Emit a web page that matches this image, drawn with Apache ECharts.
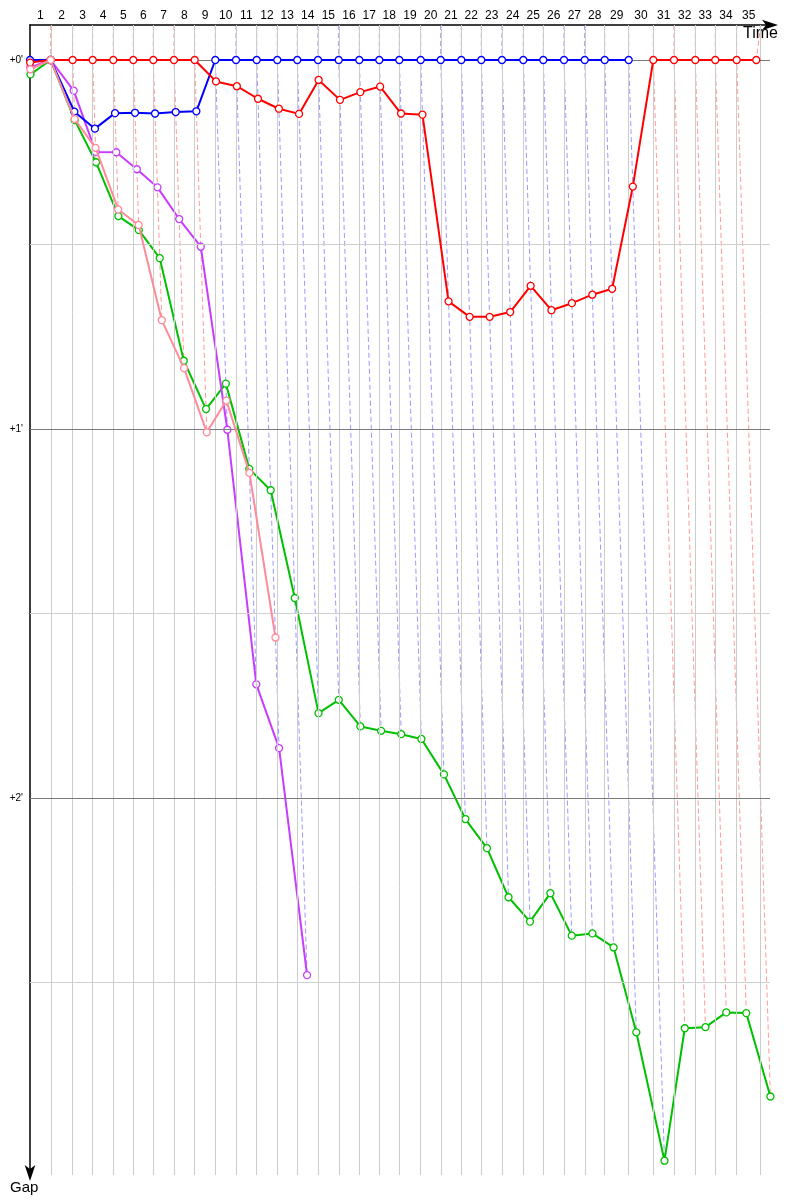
<!DOCTYPE html>
<html><head><meta charset="utf-8">
<script src="https://cdn.jsdelivr.net/npm/echarts@6/dist/echarts.min.js"></script>
<style>html,body{margin:0;padding:0;background:#fff}#c{width:800px;height:1200px}</style>
</head><body><div id="c"></div>
<script>
// Leader's cumulative race time (minutes) at the end of laps 0..35
const leaderTimes = [0, 1.725, 3.558, 5.225, 6.942, 8.608, 10.275, 12.0, 13.725, 15.442,
  17.167, 18.892, 20.608, 22.275, 24.0, 25.725, 27.442, 29.108, 30.775, 32.558,
  34.225, 35.942, 37.608, 39.333, 41.108, 42.775, 44.5, 46.225, 47.892, 49.892,
  51.942, 53.667, 55.442, 57.108, 58.892, 60.525];
const finishLineTime = 60.89;
const lapNumbers = [1,2,3,4,5,6,7,8,9,10,11,12,13,14,15,16,17,18,19,20,21,22,23,24,25,26,27,28,29,30,31,32,33,34,35];
// Leader colour of each lap (1..35): 'r' red, 'b' blue
const lapLeader = ['r','r','r','r','r','r','r','r','b','b','b','b','b','b','b','b','b','b','b','b','b','b','b','b','b','b','b','b','b','r','r','r','r','r','r'];

// Gap to leader (minutes) at end of laps 0..n
const redGaps = [0.007, 0,0,0,0,0,0,0,0,
  0.058,0.071,0.105,0.132,0.146,0.054,0.108,0.087,0.072,0.145,0.148,
  0.654,0.696,0.696,0.683,0.612,0.678,0.659,0.636,0.620,0.343,
  0,0,0,0,0,0];
const blueGaps = [0, 0, 0.140, 0.186, 0.144, 0.143, 0.145, 0.141, 0.139,
  0,0,0,0,0,0,0,0,0,0,0,0,0,0,0,0,0,0,0,0,0];
const greenGaps = [0.039, 0, 0.163, 0.277, 0.423, 0.461, 0.537, 0.815, 0.946, 0.877,
  1.108, 1.166, 1.458, 1.770, 1.734, 1.806, 1.818, 1.827, 1.840, 1.936,
  2.057, 2.136, 2.269, 2.335, 2.258, 2.373, 2.367, 2.405, 2.635, 2.983,
  2.624, 2.621, 2.581, 2.583, 2.809];
const magentaGaps = [0.02, 0, 0.083, 0.249, 0.250, 0.296, 0.345, 0.431, 0.506, 1.002, 1.692, 1.865, 2.480];
const pinkGaps = [0.025, 0, 0.160, 0.238, 0.405, 0.447, 0.705, 0.835, 1.009, 0.923, 1.119, 1.565];

const yTickLabels = ["+0'", "+1'", "+2'"];

const drivers = [
  {name:'green', color:'#00c000', gaps:greenGaps},
  {name:'magenta', color:'#c83cff', gaps:magentaGaps},
  {name:'blue', color:'#0000ff', gaps:blueGaps},
  {name:'red', color:'#ff0000', gaps:redGaps},
  {name:'pink', color:'#ff8a9a', gaps:pinkGaps}
];

const xMax = 61.667, yMin = -0.0949, yMax = 3.0217;
const gridTimes = leaderTimes.slice(1, 35).concat([finishLineTime]);
const topTimes = [0].concat(gridTimes);
const labelPos = lapNumbers.map((n) => (topTimes[n-1] + topTimes[n]) / 2);

function pointOf(gaps, lap){ return [leaderTimes[lap] + gaps[lap], gaps[lap]]; }

// dashed lap lines
const lapLines = lapNumbers.map((n) => {
  const pts = [];
  drivers.forEach(d => { if (d.gaps[n] !== undefined && d.gaps[n] !== null) pts.push(pointOf(d.gaps, n)); });
  pts.sort((a,b) => a[1]-b[1]);
  return {coords: [[topTimes[n], yMin]].concat(pts),
    lineStyle: {color: lapLeader[n-1]==='r' ? 'rgba(255,70,70,0.55)' : 'rgba(70,70,255,0.55)'}};
});

const hLines = [0,0.5,1,1.5,2,2.5].map(v => ({yAxis: v, lineStyle:{color: (v%1===0)?'#7a7a7a':'#d0d0d0', width:1, type:'solid'}}));
const vLines = gridTimes.map(t => ({xAxis: t, lineStyle:{color:'#cccccc', width:1, type:'solid'}}));

const series = [{
  type:'line', data:[[0,0]], showSymbol:false, lineStyle:{opacity:0}, z:1, silent:true,
  markLine:{silent:true, symbol:['none','none'], label:{show:false}, animation:false, data: vLines.concat(hLines)}
},{
  type:'lines', coordinateSystem:'cartesian2d', polyline:true, z:2, silent:true,
  lineStyle:{width:1, type:[5,3], opacity:1}, data: lapLines
}];
drivers.forEach((d,i) => {
  series.push({
    type:'line', name:d.name, z:3+i, clip:false,
    data: d.gaps.map((g,lap) => pointOf(d.gaps, lap)),
    symbol:'circle', symbolSize:7, showSymbol:true,
    itemStyle:{color:'#fff', borderColor:d.color, borderWidth:1.3},
    lineStyle:{color:d.color, width:2}
  });
});

const chart = echarts.init(document.getElementById('c'), null, {renderer:'canvas'});
chart.setOption({
  animation:false,
  backgroundColor:'#fff',
  grid:{left:30, right:30, top:25, bottom:25},
  xAxis:{type:'value', position:'top', min:0, max:xMax,
    axisLine:{show:true, onZero:false, lineStyle:{color:'#000', width:1.5}, symbol:['none','arrow'], symbolSize:[8,16], symbolOffset:[0,8]},
    axisTick:{show:false}, splitLine:{show:false},
    axisLabel:{customValues: labelPos, color:'#000', fontSize:12, fontWeight:'normal', margin:3, fontFamily:'Liberation Sans',
      formatter: (v) => { let best=0; labelPos.forEach((p,i)=>{ if (Math.abs(p-v) < Math.abs(labelPos[best]-v)) best=i; }); return String(lapNumbers[best]); }}},
  yAxis:{type:'value', inverse:true, min:yMin, max:yMax,
    axisLine:{show:true, onZero:false, lineStyle:{color:'#000', width:1.5}, symbol:['arrow','none'], symbolSize:[8,16], symbolOffset:[-6,0]},
    axisTick:{show:false}, splitLine:{show:false},
    axisLabel:{customValues:[0,1,2], color:'#000', fontSize:10, margin:7, fontFamily:'Liberation Sans',
      formatter:(v) => yTickLabels[Math.round(v)]}},
  graphic:[
    {type:'text', left:743, top:26, style:{text:'Time', fontSize:16, fontFamily:'Liberation Sans', fill:'#000'}},
    {type:'text', left:10, top:1180, style:{text:'Gap', fontSize:15, fontFamily:'Liberation Sans', fill:'#000'}}
  ],
  series: series
});
</script></body></html>
